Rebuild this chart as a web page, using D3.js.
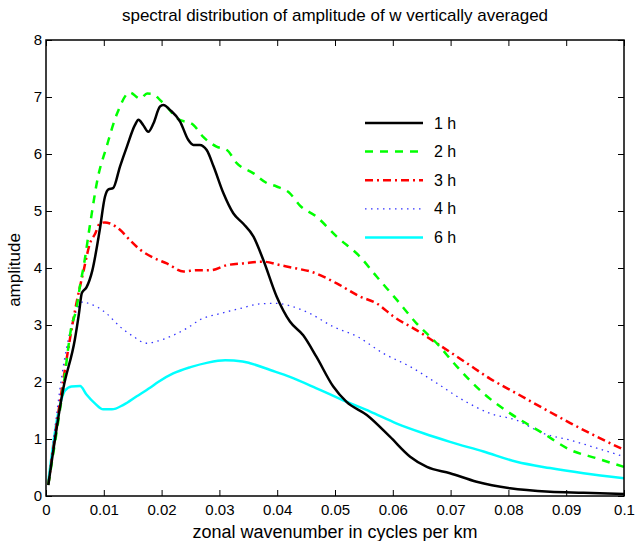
<!DOCTYPE html>
<html>
<head>
<meta charset="utf-8">
<script src="https://cdn.jsdelivr.net/npm/d3@7"></script>
<style>
  body { margin: 0; background: #fff; }
  text { font-family: "Liberation Sans", Arial, sans-serif; fill: #000; }
</style>
</head>
<body>
<div id="chart"></div>
<script>
// values
const xTicks = [0, 0.01, 0.02, 0.03, 0.04, 0.05, 0.06, 0.07, 0.08, 0.09, 0.1];
const yTicks = [0, 1, 2, 3, 4, 5, 6, 7, 8];
const seriesNames = ["1 h", "2 h", "3 h", "4 h", "6 h"];

const x1h = [0.0004,0.003,0.005,0.0057,0.0062,0.007,0.008,0.0093,0.0102,0.0108,0.0116,0.0128,0.014,0.0154,0.016,0.0168,0.0177,0.0186,0.0197,0.0203,0.0215,0.0232,0.0246,0.0255,0.0266,0.0278,0.029,0.0307,0.0324,0.0341,0.0359,0.0376,0.0399,0.0422,0.0445,0.0468,0.0497,0.052,0.0555,0.0595,0.063,0.0659,0.0699,0.0745,0.0803,0.0872,0.093,0.1];
const y1h = [0.19,1.89,2.75,3.2,3.56,3.66,3.95,4.67,5.25,5.38,5.4,5.78,6.13,6.51,6.6,6.51,6.39,6.54,6.83,6.86,6.77,6.57,6.25,6.16,6.16,6.07,5.78,5.31,4.96,4.78,4.55,4.14,3.5,3.06,2.82,2.44,1.92,1.65,1.42,1.04,0.69,0.51,0.4,0.25,0.135,0.075,0.058,0.035];

const x2h = [0.0004,0.003,0.0044,0.0053,0.0059,0.0065,0.0076,0.009,0.0104,0.0123,0.0145,0.0163,0.0175,0.0186,0.0197,0.0209,0.0226,0.0255,0.0272,0.0295,0.0313,0.033,0.0359,0.0382,0.0399,0.0422,0.0439,0.0468,0.0503,0.0543,0.0572,0.0607,0.0641,0.0676,0.0711,0.0757,0.0803,0.086,0.0907,0.0953,0.1];
const y2h = [0.2,1.92,2.97,3.3,3.7,4.02,4.75,5.6,6.1,6.71,7.08,6.97,7.06,7.05,6.95,6.83,6.63,6.51,6.3,6.13,6.07,5.84,5.66,5.49,5.43,5.31,5.1,4.9,4.55,4.2,3.85,3.44,3.03,2.68,2.27,1.8,1.45,1.1,0.81,0.66,0.51];

const x3h = [0.0004,0.003,0.0053,0.0065,0.0076,0.0085,0.0093,0.0102,0.0111,0.0128,0.0145,0.0163,0.0186,0.0209,0.0238,0.0261,0.0284,0.0313,0.0341,0.0376,0.0405,0.0434,0.0457,0.0503,0.0543,0.0572,0.0601,0.0641,0.0676,0.0728,0.0768,0.0814,0.086,0.0907,0.0953,0.1];
const y3h = [0.2,2.04,3.4,3.95,4.43,4.6,4.78,4.8,4.78,4.67,4.49,4.32,4.18,4.08,3.94,3.96,3.96,4.05,4.08,4.11,4.05,3.99,3.94,3.73,3.5,3.38,3.15,2.91,2.68,2.33,2.06,1.8,1.54,1.28,1.04,0.81];

const x4h = [0.0004,0.0036,0.0053,0.0065,0.0073,0.0088,0.0105,0.0128,0.0151,0.0174,0.0194,0.022,0.0245,0.0266,0.0301,0.0336,0.037,0.0399,0.0428,0.0457,0.0497,0.0538,0.0584,0.063,0.0676,0.0722,0.0768,0.0814,0.086,0.0907,0.0953,0.1];
const y4h = [0.2,2.62,3.26,3.41,3.38,3.32,3.2,2.97,2.8,2.68,2.72,2.82,2.95,3.09,3.2,3.29,3.37,3.38,3.32,3.2,2.97,2.8,2.5,2.27,1.98,1.68,1.45,1.33,1.1,0.98,0.84,0.69];

const x6h = [0.0004,0.0021,0.0033,0.0044,0.0059,0.007,0.0085,0.0099,0.0114,0.0134,0.0157,0.018,0.0194,0.022,0.025,0.028,0.031,0.034,0.0353,0.0388,0.0422,0.0468,0.0514,0.0561,0.0607,0.0653,0.0699,0.0757,0.0814,0.0872,0.093,0.1];
const y6h = [0.25,1.45,1.85,1.92,1.93,1.78,1.62,1.52,1.52,1.6,1.75,1.9,2.0,2.15,2.26,2.34,2.38,2.36,2.33,2.21,2.09,1.89,1.68,1.48,1.27,1.1,0.95,0.78,0.6,0.49,0.4,0.31];

const width = 635, height = 541;
const margin = { left: 46, right: 11, top: 40, bottom: 45 };

const svg = d3.select("#chart").append("svg")
  .attr("width", width)
  .attr("height", height);

const x = d3.scaleLinear().domain([0, 0.1]).range([margin.left, width - margin.right]);
const y = d3.scaleLinear().domain([0, 8]).range([height - margin.bottom, margin.top]);

// ticks inside the box, matlab style
const tickLen = 6;
svg.append("g")
  .attr("transform", "translate(0," + y(0) + ")")
  .call(d3.axisBottom(x).tickValues(xTicks).tickSizeInner(-tickLen).tickSizeOuter(0).tickPadding(8).tickFormat(d3.format("")))
  .call(g => g.select(".domain").remove())
  .call(g => g.selectAll("text").attr("font-size", 15));
svg.append("g")
  .attr("transform", "translate(0," + y(8) + ")")
  .call(d3.axisTop(x).tickValues(xTicks).tickSizeInner(-tickLen).tickSizeOuter(0).tickFormat(""))
  .call(g => g.select(".domain").remove());
svg.append("g")
  .attr("transform", "translate(" + x(0) + ",0)")
  .call(d3.axisLeft(y).tickValues(yTicks).tickSizeInner(-tickLen).tickSizeOuter(0).tickPadding(4))
  .call(g => g.select(".domain").remove())
  .call(g => g.selectAll("text").attr("font-size", 15));
svg.append("g")
  .attr("transform", "translate(" + x(0.1) + ",0)")
  .call(d3.axisRight(y).tickValues(yTicks).tickSizeInner(-tickLen).tickSizeOuter(0).tickFormat(""))
  .call(g => g.select(".domain").remove());

const line = d3.line()
  .x(d => x(d[0]))
  .y(d => y(d[1]))
  .curve(d3.curveMonotoneX);

const series = [
  { name: seriesNames[0], xs: x1h, ys: y1h, color: "#000000", w: 2.5, dash: null },
  { name: seriesNames[1], xs: x2h, ys: y2h, color: "#00ff00", w: 2.5, dash: "8,7" },
  { name: seriesNames[2], xs: x3h, ys: y3h, color: "#ff0000", w: 2.5, dash: "8,4,2,4" },
  { name: seriesNames[3], xs: x4h, ys: y4h, color: "#3333ff", w: 1.3, dash: "1.5,4.5" },
  { name: seriesNames[4], xs: x6h, ys: y6h, color: "#00ffff", w: 2.5, dash: null }
];

// draw order: later ones on top like the plot
[4, 3, 2, 1, 0].forEach(i => {
  const s = series[i];
  svg.append("path")
    .datum(s.xs.map((v, k) => [v, s.ys[k]]))
    .attr("d", line)
    .attr("fill", "none")
    .attr("stroke", s.color)
    .attr("stroke-width", s.w)
    .attr("stroke-dasharray", s.dash)
    .attr("stroke-linejoin", "round");
});

// box
svg.append("rect")
  .attr("x", x(0))
  .attr("y", y(8))
  .attr("width", x(0.1) - x(0))
  .attr("height", y(0) - y(8))
  .attr("fill", "none")
  .attr("stroke", "#000")
  .attr("stroke-width", 1.5);

// legend
const legend = svg.append("g");
series.forEach((s, i) => {
  const ly = 123 + i * 28.6;
  legend.append("line")
    .attr("x1", 365).attr("x2", 423)
    .attr("y1", ly).attr("y2", ly)
    .attr("stroke", s.color)
    .attr("stroke-width", s.w)
    .attr("stroke-dasharray", s.dash);
  legend.append("text")
    .attr("x", 434).attr("y", ly + 5.5)
    .attr("font-size", 16)
    .text(s.name);
});

svg.append("text")
  .attr("x", (x(0) + x(0.1)) / 2)
  .attr("y", 21)
  .attr("text-anchor", "middle")
  .attr("font-size", 17)
  .text("spectral distribution of amplitude of w vertically averaged");

svg.append("text")
  .attr("x", (x(0) + x(0.1)) / 2)
  .attr("y", 538)
  .attr("text-anchor", "middle")
  .attr("font-size", 18)
  .text("zonal wavenumber in cycles per km");

svg.append("text")
  .attr("transform", "translate(20," + (y(4) + 2) + ") rotate(-90)")
  .attr("text-anchor", "middle")
  .attr("font-size", 17)
  .text("amplitude");
</script>
</body>
</html>
